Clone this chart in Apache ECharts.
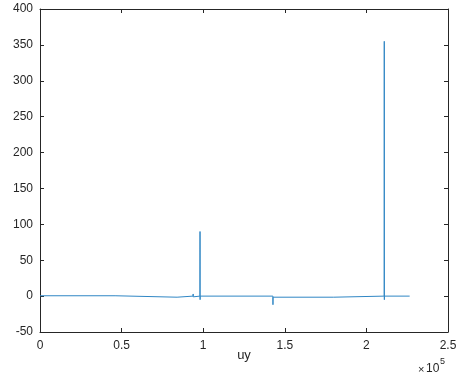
<!DOCTYPE html>
<html>
<head>
<meta charset="utf-8">
<script src="https://cdn.jsdelivr.net/npm/echarts@6/dist/echarts.min.js"></script>
<style>
    html, body {margin: 0; padding: 0; background: #fff;}
    #chart {width: 463px; height: 381px;}
</style>
</head>
<body>
<div id="chart"></div>
<script>
    // sample positions (x) and uy values
    const xs = [0, 46000, 46100, 84000, 84100, 93800, 93850, 93900, 93950, 98000, 98050, 98100, 98150,
        142700, 142750, 142800, 142850, 180000, 180100, 210900, 210950, 211000, 211050, 226500];
    const uy = [0.5, 0.5, -1.5, -1.5, 0, 0, 3, -1, 0, 0, 90, -5, 0,
        0, -12, -1.5, -1.5, -1.5, 0, 0, 355, -5, 0, 0];
    const xTicks = [0, 0.5, 1, 1.5, 2, 2.5];
    const yTicks = [-50, 0, 50, 100, 150, 200, 250, 300, 350, 400];

    const axisColor = '#262626';
    const font = 'Liberation Sans, Arial, sans-serif';

    const chart = echarts.init(document.getElementById('chart'));
    const baseX = {
        type: 'value',
        min: 0,
        max: 250000,
        interval: 50000,
        axisLine: {show: true, onZero: false, lineStyle: {color: axisColor, width: 1}},
        axisTick: {show: true, inside: true, length: 4, lineStyle: {color: axisColor}},
        splitLine: {show: false},
    };
    const baseY = {
        type: 'value',
        min: yTicks[0],
        max: yTicks[yTicks.length - 1],
        interval: 50,
        axisLine: {show: true, onZero: false, lineStyle: {color: axisColor, width: 1}},
        axisTick: {show: true, inside: true, length: 4, lineStyle: {color: axisColor}},
        splitLine: {show: false},
    };
    chart.setOption({
        animation: false,
        grid: {left: 40, right: 15, top: 9, bottom: 49, containLabel: false},
        xAxis: [
            Object.assign({}, baseX, {
                position: 'bottom',
                name: 'uy',
                nameLocation: 'middle',
                nameGap: 17,
                nameMoveOverlap: false,
                nameTextStyle: {color: axisColor, fontSize: 13, fontFamily: font, verticalAlign: 'top'},
                axisLabel: {
                    color: axisColor, fontSize: 12, fontFamily: font, margin: 8,
                    formatter: v => String(xTicks[Math.round(v / 50000)])
                },
            }),
            Object.assign({}, baseX, {position: 'top', axisLabel: {show: false}}),
        ],
        yAxis: [
            Object.assign({}, baseY, {
                position: 'left',
                axisLabel: {color: axisColor, fontSize: 12, fontFamily: font, margin: 7},
            }),
            Object.assign({}, baseY, {position: 'right', axisLabel: {show: false}}),
        ],
        series: [{
            type: 'line',
            xAxisIndex: 0,
            yAxisIndex: 0,
            data: xs.map((x, i) => [x, uy[i]]),
            symbol: 'none',
            lineStyle: {color: '#2f86c4', width: 1},
        }],
        graphic: [
            {type: 'text', left: 418, top: 364, style: {text: '×', fill: axisColor, font: '11px ' + font}},
            {type: 'text', left: 426, top: 363, style: {text: '10', fill: axisColor, font: '12px ' + font}},
            {type: 'text', left: 440, top: 357, style: {text: '5', fill: axisColor, font: '9px ' + font}},
        ],
    });
</script>
</body>
</html>
